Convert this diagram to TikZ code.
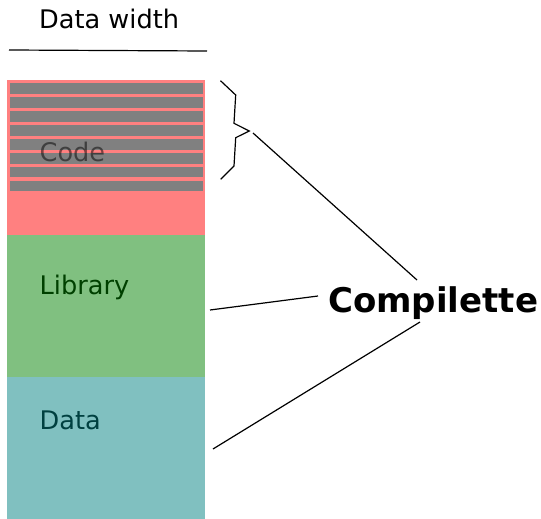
\documentclass[tikz,border=0pt]{standalone}
\usepackage{fontspec}
\setmainfont{DejaVu Sans}
\definecolor{codered}{HTML}{FF8080}
\definecolor{stripe}{HTML}{808080}
\definecolor{libgreen}{HTML}{80C080}
\definecolor{datateal}{HTML}{80C0C0}
\definecolor{libtext}{HTML}{004000}
\definecolor{datatext}{HTML}{004040}
\tikzset{
  lbl/.style={inner sep=0pt, anchor=base west, font=\fontsize{25.6}{30}\selectfont},
  conn/.style={draw=black, line width=1.2pt},
}
\begin{document}
\begin{tikzpicture}[x=1pt,y=-1pt]
\useasboundingbox (0,0) rectangle (541,519);
\fill[white] (0,0) rectangle (541,519);
% blocks
\fill[codered] (7,80) rectangle (205,235);
\foreach \i in {0,...,7} {
  \fill[stripe] (10,{83.3+13.9*\i}) rectangle (203.3,{94+13.9*\i});
}
\fill[libgreen] (7,235) rectangle (205,377);
\fill[datateal] (7,377) rectangle (205,519);
% labels
\node[lbl] (dw) at (39,28.3) {Data width};
\node[lbl, text=black, opacity=0.5] (code) at (39.5,161.7) {Code};
\node[lbl, text=libtext] (lib) at (39.5,294.8) {Library};
\node[lbl, text=datatext] (data) at (39.5,429.5) {Data};
\node[inner sep=0pt, anchor=base west, font=\fontsize{34}{38}\selectfont\bfseries] (comp) at (328,312) {Compilette};
% width line
\coordinate (w1) at (9,50);
\coordinate (w2) at (207,51);
\draw[conn] (w1) -- (w2);
% brace
\coordinate (b1) at (220.5,80.7);
\coordinate (b2) at (235.7,95);
\coordinate (b3) at (234,123.3);
\coordinate (btip) at (249.3,131);
\coordinate (b5) at (235.7,137.7);
\coordinate (b6) at (234,166);
\coordinate (b7) at (220.7,179.3);
\draw[conn, line join=miter] (b1) -- (b2) -- (b3) -- (btip) -- (b5) -- (b6) -- (b7);
% connectors
\coordinate (c1s) at (253,133);
\coordinate (c1e) at (417,280);
\coordinate (c2s) at (210,310);
\coordinate (c2e) at (318,296);
\coordinate (c3s) at (213,449);
\coordinate (c3e) at (420,322);
\draw[conn] (c1s) -- (c1e);
\draw[conn] (c2s) -- (c2e);
\draw[conn] (c3s) -- (c3e);
\end{tikzpicture}
\end{document}
